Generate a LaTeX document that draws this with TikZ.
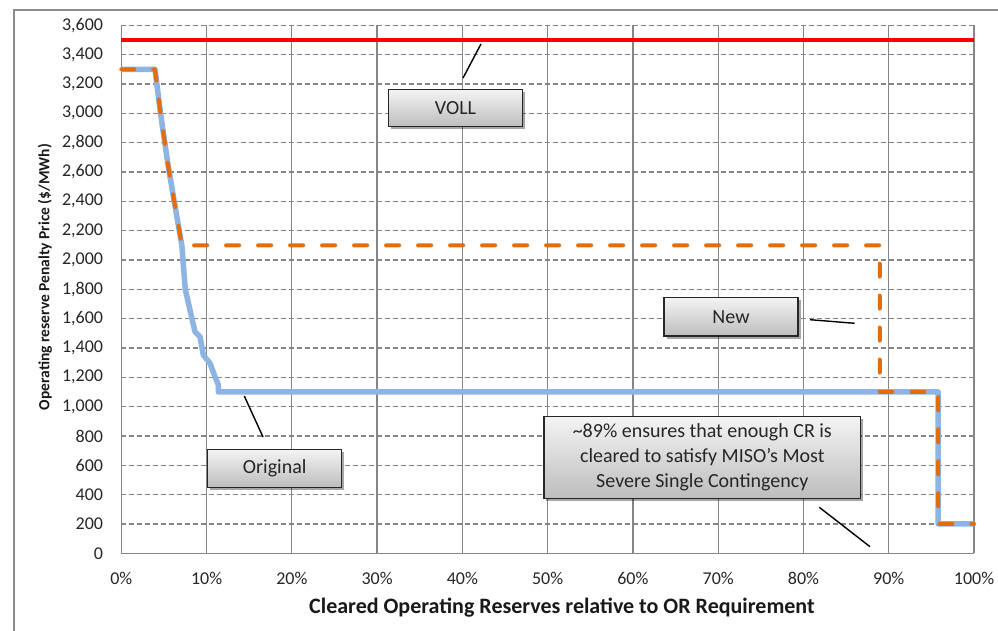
\documentclass[tikz,border=0pt]{standalone}
\usepackage{fontspec}
\setmainfont{Carlito}
\usetikzlibrary{shadows}
\definecolor{gridgray}{HTML}{868686}
\definecolor{framegray}{HTML}{8C8C8C}
\definecolor{origblue}{HTML}{8DB4E2}
\definecolor{neworange}{HTML}{E46C0A}
\definecolor{vollred}{HTML}{FF0000}
\definecolor{boxtop}{HTML}{F4F4F4}
\definecolor{boxbottom}{HTML}{BDBDBD}
\tikzset{
  hgrid/.style={gridgray, line width=1.3pt, dash pattern=on 5pt off 3pt},
  vgrid/.style={gridgray, line width=1.3pt},
  ticklab/.style={inner sep=0pt, font=\fontsize{18}{21}\selectfont, text=black!85},
  axtitle/.style={inner sep=0pt, font=\bfseries, text=black!90},
  vollline/.style={vollred, line width=4pt},
  origline/.style={origblue, line width=5.5pt, line join=round},
  newline/.style={neworange, line width=4pt, line cap=round, line join=round, dash pattern=on 13pt off 19pt},
  callout/.style={draw=black!85, line width=1.3pt, top color=boxtop, bottom color=boxbottom,
    inner sep=0pt, align=center, font=\fontsize{20}{25}\selectfont, text=black!85,
    drop shadow={shadow xshift=2.5pt, shadow yshift=-2.5pt, opacity=0.35, fill=black}},
  conn/.style={black, line width=1.4pt}
}
\begin{document}
\begin{tikzpicture}[x=1pt,y=-1pt]
\useasboundingbox (0,0) rectangle (998,631);
\fill[white] (0,0) rectangle (998,631);
% outer chart frame
\draw[framegray, line width=1.3pt] (14,631) -- (14,10) -- (998,10);
% plot area in data coordinates (percent, $/MWh)
\begin{scope}[shift={(121.3pt,-553.3pt)}, x=8.527pt, y=0.146667pt]
  \foreach \v in {200,400,...,3600} \draw[hgrid] (0,\v) -- (100,\v);
  \foreach \p in {10,20,...,100} \draw[vgrid] (\p,0) -- (\p,3600);
  \draw[vgrid] (0,3600) -- (0,0) -- (100,0);
  \foreach \v/\t in {0/0,200/200,400/400,600/600,800/800,1000/{1,000},1200/{1,200},1400/{1,400},1600/{1,600},1800/{1,800},2000/{2,000},2200/{2,200},2400/{2,400},2600/{2,600},2800/{2,800},3000/{3,000},3200/{3,200},3400/{3,400},3600/{3,600}}
    \node[ticklab, anchor=east, xshift=-18pt] (ylab\v) at (0,\v) {\t};
  \foreach \p in {0,10,...,100}
    \node[ticklab, yshift=-25pt] (xlab\p) at (\p,0) {\p\%};
  % VOLL
  \draw[vollline] (0,3500) -- (100,3500);
  % original curve
  \draw[origline] (0,3300) -- (3.95,3300) -- (4.6,3000) -- (5.5,2640) -- (6.5,2300) -- (7.1,2100)
    -- (7.5,1800) -- (8.64,1511) -- (9.23,1477) -- (9.62,1352) -- (10.4,1296) -- (10.99,1204)
    -- (11.38,1148) -- (11.38,1100) -- (95.8,1100) -- (95.8,200) -- (100,200);
  % new curve
  \draw[newline] (0,3300) -- (3.95,3300) -- (4.6,3000) -- (5.5,2640) -- (6.5,2300) -- (7.1,2100)
    -- (88.95,2100) -- (88.95,1100) -- (95.8,1100) -- (95.8,200) -- (100,200);
\end{scope}
% axis titles
\node[axtitle, rotate=90, font=\fontsize{15.5}{18}\selectfont\bfseries] (ytitle) at (45,277) {Operating reserve Penalty Price (\$/MWh)};
\node[axtitle, font=\fontsize{22}{26}\selectfont\bfseries] (xtitle) at (562,608) {Cleared Operating Reserves relative to OR Requirement};
% callouts
\node[callout, minimum width=134pt, minimum height=37pt] (voll) at (455.5,108) {VOLL};
\node[callout, minimum width=134pt, minimum height=38.7pt] (new) at (731,316.7) {New};
\node[callout, minimum width=134pt, minimum height=38pt] (orig) at (274.7,468.3) {Original};
\node[callout, minimum width=316.7pt, minimum height=81.6pt] (miso) at (702.3,457.5)
  {\textasciitilde 89\% ensures that enough CR is\\cleared to satisfy MISO\symbol{39}s Most\\Severe Single Contingency};
% connectors
\coordinate (vollA) at (463,78);
\coordinate (vollB) at (481,44);
\draw[conn] (vollA) -- (vollB);
\coordinate (newA) at (810,319.7);
\coordinate (newB) at (854.7,323.3);
\draw[conn] (newA) -- (newB);
\coordinate (origA) at (263,437);
\coordinate (origB) at (244.3,396);
\draw[conn] (origA) -- (origB);
\coordinate (misoA) at (819.3,507.3);
\coordinate (misoB) at (870,546.7);
\draw[conn] (misoA) -- (misoB);
\end{tikzpicture}
\end{document}
